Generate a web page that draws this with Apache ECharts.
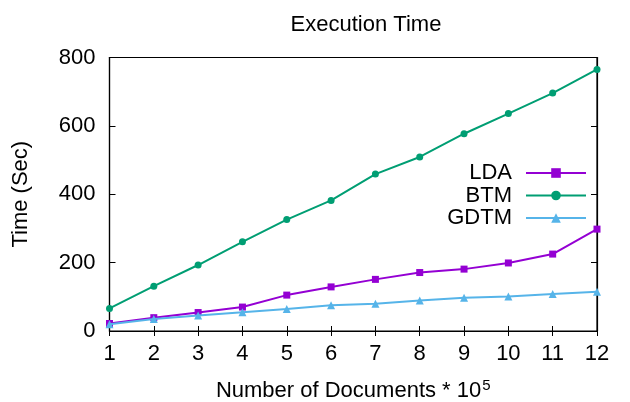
<!DOCTYPE html>
<html>
<head>
<meta charset="utf-8">
<script src="https://cdn.jsdelivr.net/npm/echarts@6/dist/echarts.min.js"></script>
<style>html,body{margin:0;padding:0;background:#fff}#c{width:630px;height:402px}</style>
</head>
<body>
<div id="c"></div>
<script>
const categories = ['1','2','3','4','5','6','7','8','9','10','11','12'];
const ldaValues  = [22, 39, 54, 70, 105, 129, 151, 171, 181, 199, 225, 298];
const btmValues  = [66, 131, 193, 261, 326, 382, 459, 509, 577, 636, 696, 765];
const gdtmValues = [20, 35, 45, 55, 64, 75, 80, 89, 97, 101, 108, 115];
const yTicks = [0, 200, 400, 600, 800];

const FONT = 'Liberation Sans';
const FS = 22;
const chart = echarts.init(document.getElementById('c'), null, {renderer: 'canvas'});
const lineStyleOf = c => ({color: c, width: 2});
chart.setOption({
  animation: false,
  backgroundColor: '#fff',
  title: {
    text: 'Execution Time', left: 361, top: 9, textAlign: 'center',
    textStyle: {fontFamily: FONT, fontSize: FS, fontWeight: 'normal', color: '#000'}
  },
  grid: {left: 109.5, right: 33, top: 57.5, bottom: 71, show: true, borderColor: '#000', borderWidth: 1.2,
         containLabel: false, outerBoundsMode: 'none'},
  legend: {
    orient: 'vertical', right: 38, top: 157, align: 'right', itemGap: 0.5,
    itemWidth: 60, itemHeight: 12,
    textStyle: {fontFamily: FONT, fontSize: FS, lineHeight: 22, color: '#000', padding: [0, 9, 0, 0]},
    data: ['LDA', 'BTM', 'GDTM']
  },
  xAxis: [{
    type: 'category', data: categories, boundaryGap: false, position: 'bottom',
    axisLine: {lineStyle: {color: '#000', width: 1.2}},
    axisTick: {inside: true, length: 5, lineStyle: {color: '#000'}},
    axisLabel: {fontFamily: FONT, fontSize: FS, color: '#000', margin: 12},
    splitLine: {show: false},
    name: '{a|Number of Documents * 10}{s|5}', nameLocation: 'middle', nameGap: 47,
    nameTextStyle: {rich: {
      a: {fontFamily: FONT, fontSize: FS, color: '#000'},
      s: {fontFamily: FONT, fontSize: 15, color: '#000', verticalAlign: 'top', padding: [0, 0, 10, 1]}
    }}
  }, {
    type: 'category', data: categories, boundaryGap: false, position: 'top',
    axisLine: {lineStyle: {color: '#000', width: 1.2}},
    axisTick: {inside: true, length: 5, lineStyle: {color: '#000'}},
    axisLabel: {show: false}, splitLine: {show: false}
  }],
  yAxis: [{
    type: 'value', min: yTicks[0], max: yTicks[yTicks.length - 1], interval: 200, position: 'left',
    axisLine: {show: true, lineStyle: {color: '#000', width: 1.2}},
    axisTick: {show: true, inside: true, length: 6, lineStyle: {color: '#000'}},
    axisLabel: {fontFamily: FONT, fontSize: FS, color: '#000', margin: 14},
    splitLine: {show: false},
    name: 'Time (Sec)', nameLocation: 'middle', nameGap: 78,
    nameTextStyle: {fontFamily: FONT, fontSize: FS, color: '#000'}
  }, {
    type: 'value', min: yTicks[0], max: yTicks[yTicks.length - 1], interval: 200, position: 'right',
    axisLine: {show: true, lineStyle: {color: '#000', width: 1.2}},
    axisTick: {show: true, inside: true, length: 6, lineStyle: {color: '#000'}},
    axisLabel: {show: false}, splitLine: {show: false}
  }],
  series: [
    {name: 'LDA', type: 'line', data: ldaValues, symbol: 'rect', symbolSize: 7,
     itemStyle: {color: '#9400d3'}, lineStyle: lineStyleOf('#9400d3'), z: 3},
    {name: 'BTM', type: 'line', data: btmValues, symbol: 'circle', symbolSize: 7,
     itemStyle: {color: '#009e73'}, lineStyle: lineStyleOf('#009e73'), z: 2},
    {name: 'GDTM', type: 'line', data: gdtmValues, symbol: 'triangle', symbolSize: 8,
     itemStyle: {color: '#56b4e9'}, lineStyle: lineStyleOf('#56b4e9'), z: 4}
  ]
});
</script>
</body>
</html>
